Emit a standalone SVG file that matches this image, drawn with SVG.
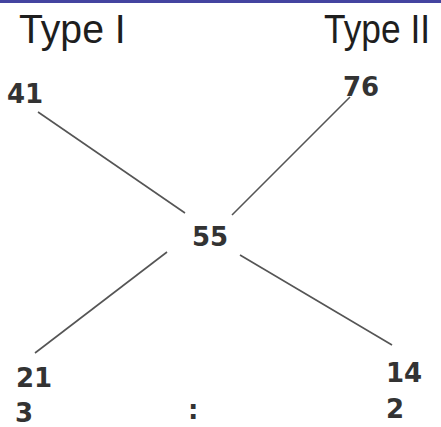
<svg xmlns="http://www.w3.org/2000/svg" width="441" height="427" viewBox="0 0 441 427">
<style>
.title{font-family:"Liberation Sans",Arial,sans-serif;font-size:41px;fill:#1e1e1e}
.num{font-family:"DejaVu Sans",Verdana,sans-serif;font-size:26px;font-weight:bold;fill:#333}
.conn line{stroke:#555;stroke-width:1.6}
</style>
<rect x="0" y="0" width="441" height="427" fill="#fff"/>
<rect x="0" y="0" width="441" height="3" fill="#4444a0"/>
<g id="title-type1" transform="translate(19,43) scale(0.956,1)"><text class="title" x="0" y="0">Type I</text></g>
<g id="title-type2" transform="translate(324,43) scale(0.862,1)"><text class="title" x="0" y="0">Type II</text></g>
<g class="conn" id="connectors">
<line x1="38" y1="112" x2="185" y2="213"/>
<line x1="350" y1="97" x2="232" y2="215"/>
<line x1="167" y1="252" x2="35" y2="353"/>
<line x1="240" y1="255" x2="392" y2="345"/>
</g>
<g id="n41"><text class="num" x="7" y="103">41</text></g>
<g id="n76"><text class="num" x="343" y="96">76</text></g>
<g id="n55"><text class="num" x="192" y="246">55</text></g>
<g id="n21"><text class="num" x="16" y="387">21</text></g>
<g id="n3"><text class="num" x="15" y="422">3</text></g>
<g id="n14"><text class="num" x="386" y="382">14</text></g>
<g id="n2"><text class="num" x="386" y="418">2</text></g>
<g id="colon"><text class="num" x="188" y="419">:</text></g>
</svg>
